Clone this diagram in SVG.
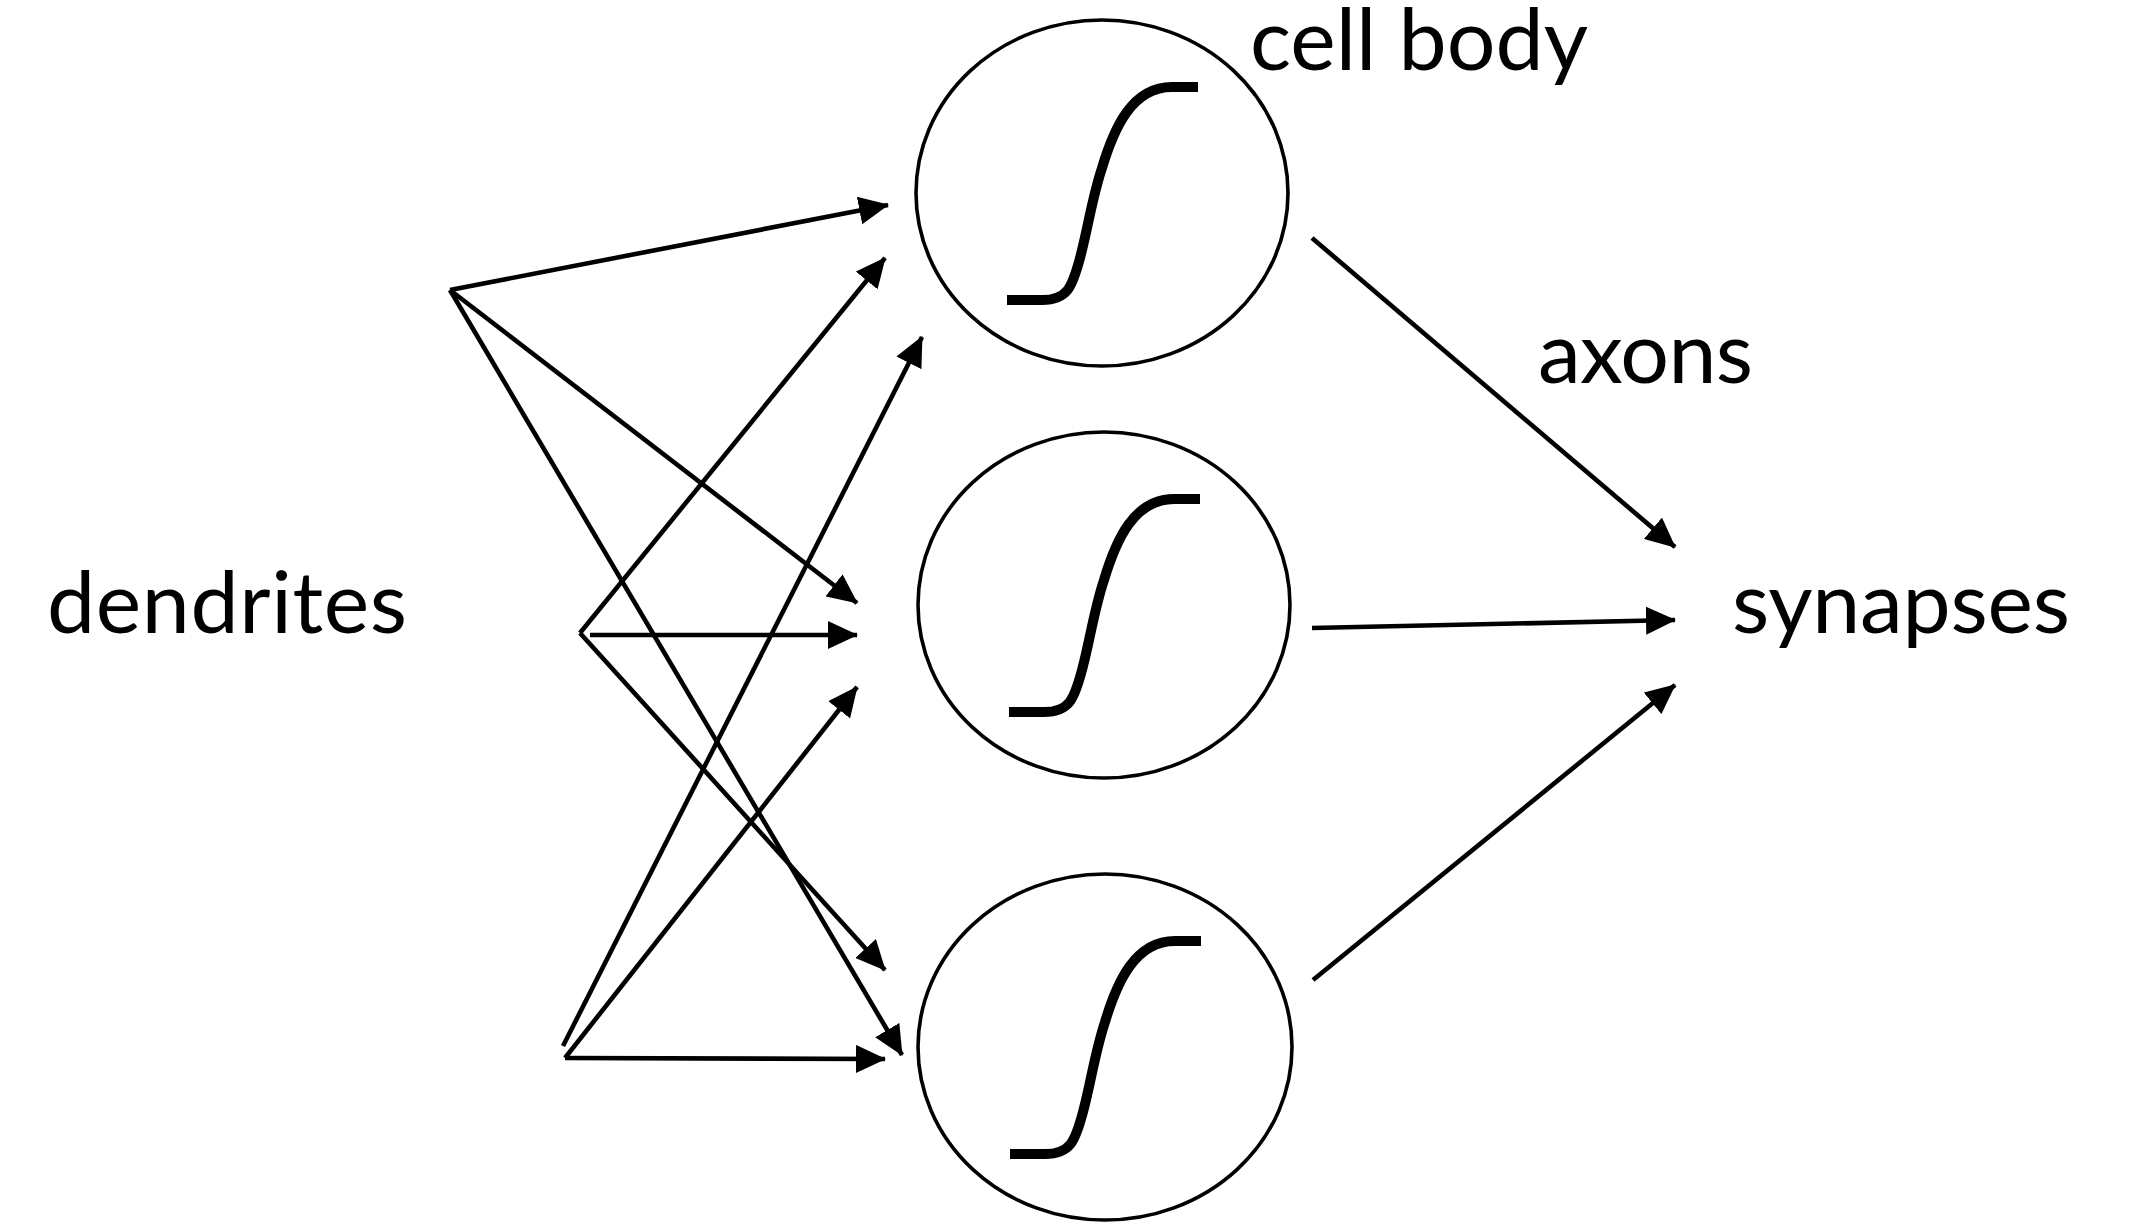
<svg xmlns="http://www.w3.org/2000/svg" width="2142" height="1224" viewBox="0 0 2142 1224">
<style>
.lbl{font-family:Lato,"Open Sans","Liberation Sans",sans-serif;font-size:86px;fill:#000}
.cell{fill:none;stroke:#000;stroke-width:3.6}
.sig{fill:none;stroke:#000;stroke-width:10}
.con line{stroke:#000;stroke-width:4.6;marker-end:url(#ah)}
</style>
<defs>
<marker id="ah" markerUnits="userSpaceOnUse" markerWidth="30" markerHeight="28" refX="29" refY="14" orient="auto">
<path d="M0,0 L30,14 L0,28 z" fill="#000"/>
</marker>
<path id="sigmoid" d="M-95,107 H-60 C-35,107 -30,95 -22,65 C-14,35 -10,5 0,-25 C12,-65 30,-106 70,-106 H96"/>
</defs>
<rect width="2142" height="1224" fill="#fff"/>
<g id="cell1">
<ellipse class="cell" cx="1102" cy="193" rx="186" ry="173"/>
<use href="#sigmoid" class="sig" x="1102" y="193"/>
</g>
<g id="cell2">
<ellipse class="cell" cx="1104" cy="605" rx="186" ry="173"/>
<use href="#sigmoid" class="sig" x="1104" y="605"/>
</g>
<g id="cell3">
<ellipse class="cell" cx="1105" cy="1047" rx="187" ry="173"/>
<use href="#sigmoid" class="sig" x="1105" y="1047"/>
</g>
<g id="labels">
<text id="cell-body" class="lbl" x="1250" y="70" textLength="338">cell body</text>
<text id="axons" class="lbl" x="1538" y="383" textLength="215">axons</text>
<text id="dendrites" class="lbl" x="47" y="633" textLength="360">dendrites</text>
<text id="synapses" class="lbl" x="1732" y="633" textLength="338">synapses</text>
</g>
<g id="connectors" class="con">
<line x1="450" y1="290" x2="888" y2="205"/>
<line x1="450" y1="290" x2="857" y2="603"/>
<line x1="450" y1="290" x2="902" y2="1055"/>
<line x1="580" y1="633" x2="885" y2="258"/>
<line x1="590" y1="635" x2="857" y2="635"/>
<line x1="580" y1="633" x2="885" y2="970"/>
<line x1="563" y1="1046" x2="922" y2="337"/>
<line x1="565" y1="1058" x2="857" y2="687"/>
<line x1="565" y1="1058" x2="885" y2="1059"/>
<line x1="1312" y1="238" x2="1675" y2="547"/>
<line x1="1312" y1="628" x2="1675" y2="620"/>
<line x1="1313" y1="980" x2="1675" y2="685"/>
</g>
</svg>
